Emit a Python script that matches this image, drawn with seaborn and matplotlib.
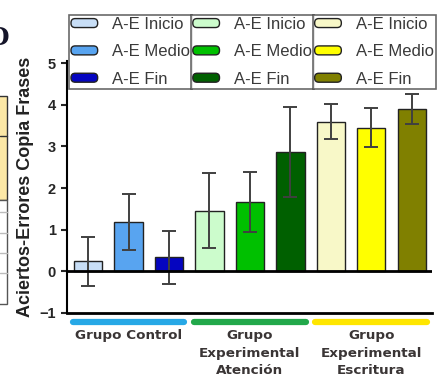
import pandas as pd
import matplotlib.pyplot as plt
import seaborn as sns
from matplotlib.patches import Patch, Rectangle, FancyBboxPatch
from matplotlib.legend_handler import HandlerPatch
from matplotlib.lines import Line2D

# =============================================
# Data
# =============================================
grupos = ['Grupo Control', 'Grupo\nExperimental\nAtención', 'Grupo\nExperimental\nEscritura']
fases = ['A-E Inicio', 'A-E Medio', 'A-E Fin']
medias = [0.24, 1.18, 0.34, 1.46, 1.67, 2.87, 3.59, 3.45, 3.89]
errores = [0.58, 0.67, 0.64, 0.90, 0.72, 1.08, 0.42, 0.46, 0.36]
colores = ['#c8def6', '#58a4f0', '#0505c0',
           '#ccfccc', '#00c000', '#006000',
           '#f8f8c8', '#ffff00', '#808000']
linea_grupo = ['#27a8e6', '#22a84a', '#ffe600']

df = pd.DataFrame({
    'grupo': [g for g in grupos for _ in fases],
    'fase': fases * len(grupos),
    'valor': medias,
    'error': errores,
})
df['cond'] = [f'{g} {f}' for g, f in zip(df['grupo'], df['fase'])]

sns.set_style('white')
plt.rcParams['font.family'] = ['Liberation Sans', 'DejaVu Sans']

W, H = 443, 382
fig = plt.figure(figsize=(W / 100, H / 100), dpi=100)
ax = fig.add_axes([67 / W, 1 - 313 / H, (432 - 67) / W, (313 - 61) / H])

sns.barplot(data=df, x='cond', y='valor', hue='cond', palette=colores,
            saturation=1, legend=False, width=0.7, edgecolor='#222222',
            linewidth=1, errorbar=None, ax=ax)
ax.errorbar(range(len(df)), df['valor'], yerr=df['error'], fmt='none',
            ecolor='#404040', elinewidth=1.4, capsize=5, capthick=1.4, zorder=5)

ax.axhline(0, color='black', lw=2, zorder=6)
ax.set_ylim(-1, 5.05)
ax.set_xlim(-0.52, 8.5)
ax.set_yticks(range(-1, 6))
ax.set_xticks([])
ax.set_xlabel('')
ax.set_ylabel('Aciertos-Errores Copia Frases', fontsize=13, fontweight='bold',
              color='#222222', labelpad=4)
ax.tick_params(axis='y', direction='out', length=4, width=1.5, pad=4,
               labelsize=10.5, left=True)
for t in ax.get_yticklabels():
    t.set_fontweight('bold')
sns.despine(ax=ax)
ax.spines['left'].set_linewidth(1.5)
ax.spines['bottom'].set_linewidth(2)
ax.spines['left'].set_color('black')
ax.spines['bottom'].set_color('black')

# group underlines and labels below the axis
trans = ax.get_xaxis_transform()
for i, g in enumerate(grupos):
    c = i * 3 + 1
    ax.add_line(Line2D([c - 1.38, c + 1.38], [-0.035, -0.035], transform=trans,
                       color=linea_grupo[i], lw=4.5, solid_capstyle='round',
                       clip_on=False))
    ax.text(c, -0.065, g, transform=trans, ha='center', va='top',
            fontsize=9.7, fontweight='bold', family='DejaVu Sans',
            color='#3a3535', linespacing=1.45)


# legends: one per group, side by side, each starting where the last ends
def rounded(legend, orig_handle, xdescent, ydescent, width, height, fontsize):
    return FancyBboxPatch((-xdescent, -ydescent), width, height,
                          boxstyle='round,pad=0,rounding_size=3')


left = 69
renderer = fig.canvas.get_renderer()
for i in range(len(grupos)):
    handles = [Patch(facecolor=colores[i * 3 + j], edgecolor='#222222', linewidth=1)
               for j in range(3)]
    leg = fig.legend(handles, fases, loc='upper left',
                     bbox_to_anchor=(left / W, 1 - 15 / H),
                     borderaxespad=0, frameon=True, fancybox=False,
                     edgecolor='#444444', fontsize=12, borderpad=0.12,
                     handlelength=1.6, handleheight=0.45, handletextpad=0.85,
                     labelspacing=0.74,
                     handler_map={Patch: HandlerPatch(patch_func=rounded)})
    leg.get_frame().set_linewidth(1.2)
    for t in leg.get_texts():
        t.set_color('#3a3a3a')
    bb = leg.get_window_extent(renderer)
    left = bb.x1 - 1

# fragment of the neighbouring panel on the left edge
fig.patches.append(Rectangle((-2 / W, 1 - 200 / H), 9 / W, 104 / H,
                             transform=fig.transFigure, facecolor='#fce8a6',
                             edgecolor='#333333', lw=1))
fig.patches.append(Rectangle((-2 / W, 1 - 304 / H), 9 / W, 104 / H,
                             transform=fig.transFigure, facecolor='white',
                             edgecolor='#555555', lw=1))
for yy, col in [(136, '#333333'), (212, '#bbbbbb'), (233, '#bbbbbb'),
                (253, '#bbbbbb'), (273, '#bbbbbb')]:
    fig.lines.append(Line2D([0, 7 / W], [1 - yy / H, 1 - yy / H],
                            transform=fig.transFigure, color=col, lw=1))
fig.text(9 / W, 1 - 38 / H, 'D', ha='right', va='center', fontsize=17,
         fontweight='bold', family='DejaVu Serif', color='#15152a')

fig.savefig('out.png', dpi=100)
